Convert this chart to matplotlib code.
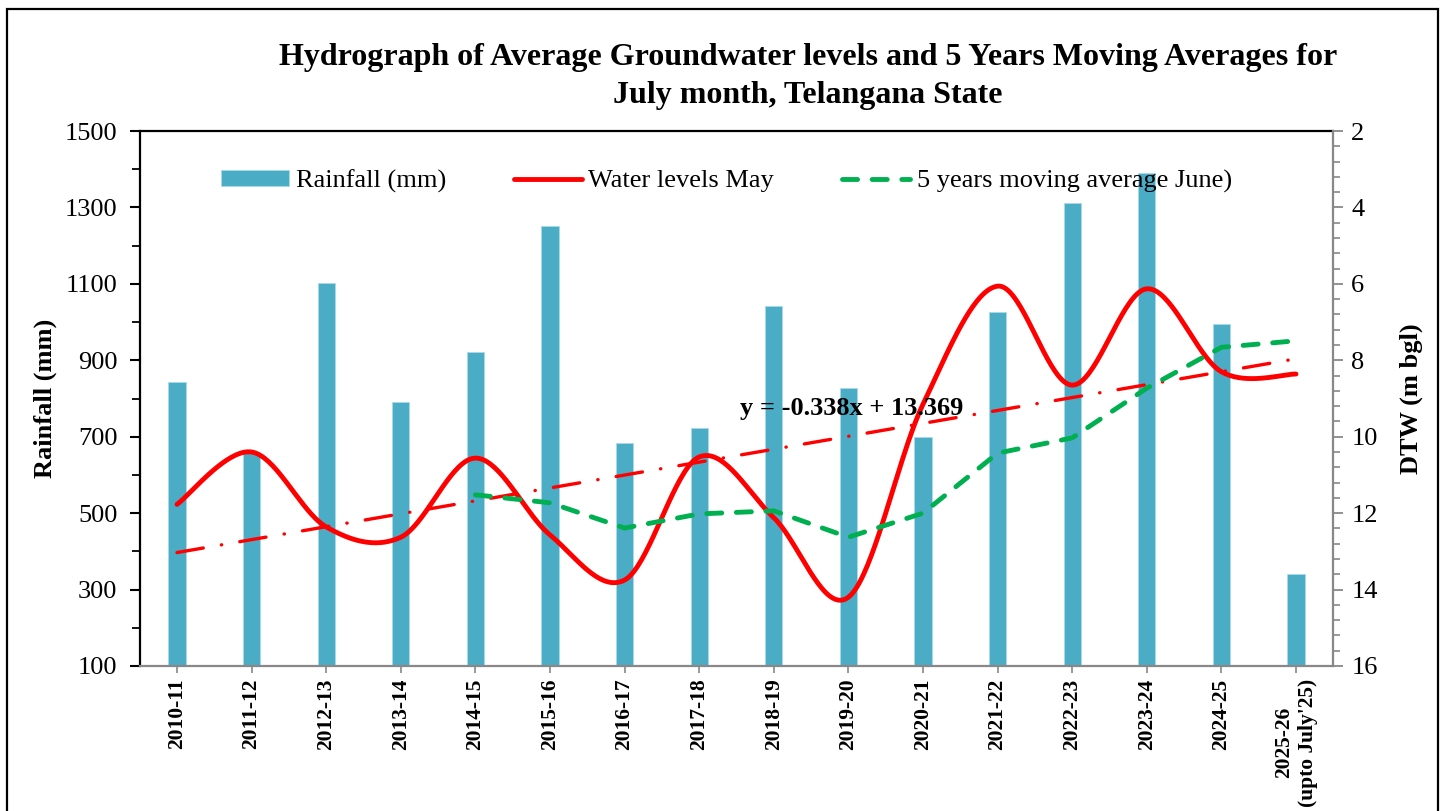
import numpy as np
import matplotlib
matplotlib.use("Agg")
import matplotlib.pyplot as plt
from matplotlib.patches import Rectangle

# ---------------- data ----------------
seasons = ['2010-11', '2011-12', '2012-13', '2013-14', '2014-15', '2015-16',
           '2016-17', '2017-18', '2018-19', '2019-20', '2020-21', '2021-22',
           '2022-23', '2023-24', '2024-25', "2025-26\n(upto July'25)"]
rainfall = [843, 657, 1103, 791, 922, 1251, 684, 723, 1042, 827, 699, 1026,
            1312, 1390, 995, 341]
water_levels = [11.77, 10.40, 12.36, 12.63, 10.56, 12.57, 13.75, 10.53, 12.12,
                14.20, 9.15, 6.06, 8.65, 6.13, 8.30, 8.36]
moving_avg = [np.nan, np.nan, np.nan, np.nan, 11.52, 11.73, 12.39, 12.02,
              11.94, 12.63, 12.00, 10.43, 10.03, 8.73, 7.66, 7.49]
trend_slope = -0.338
trend_intercept = 13.369
trend_label = "y = -0.338x + 13.369"

title_line1 = "Hydrograph of Average Groundwater levels and 5 Years Moving Averages for"
title_line2 = "July month, Telangana State"

# ---------------- style ----------------
SERIF = ['Liberation Serif', 'DejaVu Serif']
plt.rcParams['font.family'] = SERIF
BAR_C = '#4BACC6'
RED = '#FF0000'
GREEN = '#00B050'

W, H = 1444, 811
fig = plt.figure(figsize=(W / 100, H / 100), dpi=100)

# outer border
fig.patches.append(Rectangle((7 / W, -0.05), (1438 - 7) / W, 1 - 9 / H + 0.05,
                             transform=fig.transFigure, fill=False,
                             edgecolor='black', linewidth=1.6, zorder=0))

left, right, top, bottom = 139.7, 1333.3, 131, 666
ax = fig.add_axes([left / W, 1 - bottom / H, (right - left) / W, (bottom - top) / H])
ax2 = ax.twinx()

x = np.arange(len(seasons))

# bars
bars = ax.bar(x, rainfall, width=0.23, color=BAR_C, edgecolor='#A8DCEA',
              linewidth=0.6, zorder=2, label='Rainfall (mm)')
ax.set_xlim(-0.5, len(seasons) - 0.5)
ax.set_ylim(100, 1500)
ax.set_yticks(np.arange(100, 1501, 200))
ax.set_yticks(np.arange(200, 1500, 200), minor=True)
ax.tick_params(axis='y', which='major', direction='out', length=7, width=1.5,
               color='black', labelsize=19, pad=9)
ax.tick_params(axis='y', which='minor', direction='out', length=6, width=1.3,
               color='black')
ax.set_xticks(x)
ax.set_xticklabels(seasons, rotation=90, fontsize=15.5, fontweight='bold',
                   va='top', ha='center', multialignment='center')
ax.tick_params(axis='x', direction='out', length=5, width=1.2, color='#888888',
               pad=4)
for s in ['left', 'top']:
    ax.spines[s].set_color('black')
    ax.spines[s].set_linewidth(1.6)
ax.spines['bottom'].set_color('#888888')
ax.spines['bottom'].set_linewidth(1.6)
ax.spines['right'].set_visible(False)
ax.set_ylabel('Rainfall (mm)', fontsize=19, fontweight='bold', labelpad=6)

# Catmull-Rom style smoothing (Excel smoothed line) of water levels
def smooth(xs, ys, n=40):
    xs = np.asarray(xs, float)
    ys = np.asarray(ys, float)
    P = np.column_stack([xs, ys])
    out = []
    m = len(P)
    t = np.linspace(0, 1, n)[:, None]
    for i in range(m - 1):
        p0 = P[i - 1] if i > 0 else P[i]
        p1 = P[i]
        p2 = P[i + 1]
        p3 = P[i + 2] if i + 2 < m else P[i + 1]
        c1 = p1 + (p2 - p0) / 6.0
        c2 = p2 - (p3 - p1) / 6.0
        seg = ((1 - t) ** 3) * p1 + 3 * ((1 - t) ** 2) * t * c1 + \
              3 * (1 - t) * t ** 2 * c2 + t ** 3 * p2
        out.append(seg if i == 0 else seg[1:])
    out = np.vstack(out)
    return out[:, 0], out[:, 1]

# trendline
tx = np.array([x[0], x[-1]])
ty = trend_slope * (tx + 1) + trend_intercept
ax2.plot(tx, ty, color=RED, linewidth=2.4, dashes=(8.0, 5.5, 0.1, 5.5),
         dash_capstyle='round', zorder=3)

sx, sy = smooth(x, water_levels)
wl_line, = ax2.plot(sx, sy, color=RED, linewidth=3.5, solid_capstyle='round',
                    zorder=4, label='Water levels May')
ma_line, = ax2.plot(x, moving_avg, color=GREEN, linewidth=3.5,
                    dashes=(3.1, 3.0), dash_capstyle='round',
                    solid_joinstyle='round', zorder=5,
                    label='5 years moving average June)')

ax2.set_ylim(16, 2)
ax2.set_yticks(np.arange(2, 17, 2))
ax2.set_yticks(np.arange(2.4, 16, 0.4), minor=True)
ax2.tick_params(axis='y', which='major', direction='out', length=7, width=1.3,
                color='#888888', labelsize=19, pad=6)
ax2.tick_params(axis='y', which='minor', direction='out', length=5, width=1.2,
                color='#888888')
for s in ['left', 'top', 'bottom']:
    ax2.spines[s].set_visible(False)
ax2.spines['right'].set_color('#888888')
ax2.spines['right'].set_linewidth(1.6)
ax2.set_ylabel('DTW (m bgl)', fontsize=19, fontweight='bold', labelpad=16)

ax2.text(7.55, 9.25, trend_label, fontsize=19, fontweight='bold',
         ha='left', va='center', zorder=6)

# legend
leg = ax2.legend([bars, wl_line, ma_line],
                 ['Rainfall (mm)', 'Water levels May', '5 years moving average June)'],
                 loc='center left', bbox_to_anchor=(221 / W, 1 - 181 / H),
                 bbox_transform=fig.transFigure, ncol=3, frameon=False,
                 fontsize=19, handlelength=2.57, handleheight=0.53,
                 handletextpad=0.26, columnspacing=2.57, borderpad=0,
                 borderaxespad=0)

# titles
fig.text(808 / W, 1 - 58 / H, title_line1, ha='center', va='center',
         fontsize=23, fontweight='bold')
fig.text(808 / W, 1 - 96 / H, title_line2, ha='center', va='center',
         fontsize=23, fontweight='bold')

fig.savefig('out.png', dpi=100)
